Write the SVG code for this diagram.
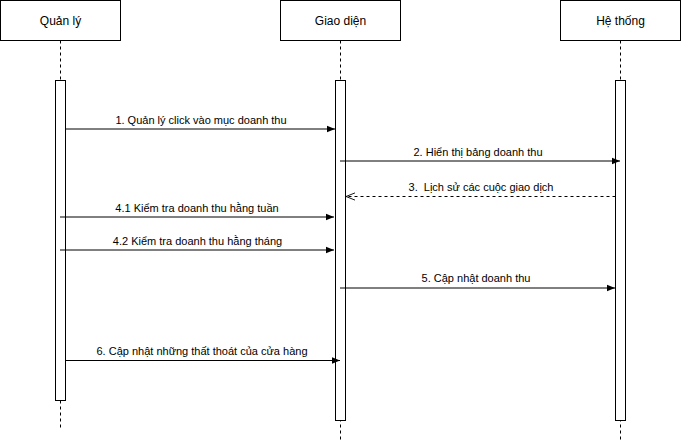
<svg xmlns="http://www.w3.org/2000/svg" width="681" height="441" viewBox="0 0 681 441">
<defs>
<style>
.box{fill:#fff;stroke:#000;stroke-width:1}
.life{stroke:#000;stroke-width:1;stroke-dasharray:3 3;fill:none}
.bar{fill:#fff;stroke:#000;stroke-width:1}
.msg{stroke:#000;stroke-width:1;fill:none}
.ret{stroke:#000;stroke-width:1;fill:none;stroke-dasharray:3 3}
.t{font-family:"Liberation Sans",Arial,sans-serif;font-size:12px;fill:#000;text-anchor:middle}
.ml{font-family:"Liberation Sans",Arial,sans-serif;font-size:11px;fill:#000;text-anchor:middle}
</style>
<marker id="block" viewBox="0 0 10 10" refX="10" refY="5" markerWidth="8" markerHeight="8" markerUnits="userSpaceOnUse" orient="auto">
<path d="M0,1 L10,5 L0,9 Z" fill="#000"/>
</marker>
<marker id="open" viewBox="0 0 12 10" refX="11" refY="5" markerWidth="11" markerHeight="9" markerUnits="userSpaceOnUse" orient="auto">
<path d="M1,1 L11,5 L1,9" fill="none" stroke="#000" stroke-width="1"/>
</marker>
</defs>
<rect width="681" height="441" fill="#fff"/>
<g id="quan-ly">
<rect class="box" x="0.5" y="0.5" width="120" height="40"/>
<text class="t" x="60.5" y="24.5">Quản lý</text>
<line class="life" x1="60.5" y1="40.5" x2="60.5" y2="430"/>
<rect class="bar" x="55.5" y="80.5" width="10" height="320"/>
</g>
<g id="giao-dien">
<rect class="box" x="280.5" y="0.5" width="120" height="40"/>
<text class="t" x="340.5" y="24.5">Giao diện</text>
<line class="life" x1="340.5" y1="40.5" x2="340.5" y2="441"/>
<rect class="bar" x="335.5" y="80.5" width="10" height="340"/>
</g>
<g id="he-thong">
<rect class="box" x="560.5" y="0.5" width="120" height="40"/>
<text class="t" x="620.5" y="24.5">Hệ thống</text>
<line class="life" x1="620.5" y1="40.5" x2="620.5" y2="441"/>
<rect class="bar" x="615.5" y="80.5" width="10" height="340"/>
</g>
<g id="connectors">
<line class="msg" x1="65.5" y1="129" x2="335" y2="129" marker-end="url(#block)"/>
<text class="ml" x="201" y="124">1. Quản lý click vào mục doanh thu</text>
<line class="msg" x1="340" y1="161" x2="620" y2="161" marker-end="url(#block)"/>
<text class="ml" x="478" y="156">2. Hiển thị bảng doanh thu</text>
<line class="ret" x1="615.5" y1="196.5" x2="346" y2="196.5" marker-end="url(#open)"/>
<text class="ml" x="481" y="191" xml:space="preserve">3.  Lịch sử các cuộc giao dịch</text>
<line class="msg" x1="60" y1="217" x2="334" y2="217" marker-end="url(#block)"/>
<text class="ml" x="197" y="212">4.1 Kiểm tra doanh thu hằng tuần</text>
<line class="msg" x1="60" y1="250" x2="334" y2="250" marker-end="url(#block)"/>
<text class="ml" x="197.5" y="245">4.2 Kiểm tra doanh thu hằng tháng</text>
<line class="msg" x1="340" y1="288" x2="615" y2="288" marker-end="url(#block)"/>
<text class="ml" x="476" y="282">5. Cập nhật doanh thu</text>
<line class="msg" x1="65.5" y1="360.5" x2="340" y2="360.5" marker-end="url(#block)"/>
<text class="ml" x="202" y="355">6. Cập nhật những thất thoát của cửa hàng</text>
</g>
</svg>
